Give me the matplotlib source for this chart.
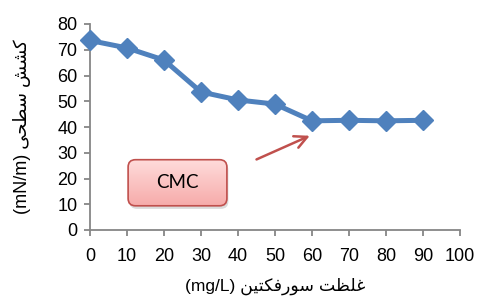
import numpy as np
import matplotlib
matplotlib.use("Agg")
import matplotlib.pyplot as plt
from matplotlib.patches import FancyBboxPatch
from matplotlib.colors import LinearSegmentedColormap

# ---- data ----
concentration = [0, 10, 20, 30, 40, 50, 60, 70, 80, 90]
surface_tension = [73.6, 70.7, 66.0, 53.6, 50.5, 48.9, 42.4, 42.6, 42.4, 42.6]
x_ticks = [0, 10, 20, 30, 40, 50, 60, 70, 80, 90, 100]
y_ticks = [0, 10, 20, 30, 40, 50, 60, 70, 80]
x_label_ar = "غلظت سورفکتین"
x_label_unit = "(mg/L)"
y_label_ar = "کشش سطحی"
y_label_unit = "(mN/m)"
cmc_label = "CMC"
cmc_index = 6

# ---- minimal Arabic/Persian shaping (presentation forms, visual order) ----
FORMS = {
    'ک': ('\uFB8E', '\uFB8F', '\uFB90', '\uFB91'),
    'ی': ('\uFBFC', '\uFBFD', '\uFBFE', '\uFBFF'),
    'ش': ('\uFEB5', '\uFEB6', '\uFEB7', '\uFEB8'),
    'س': ('\uFEB1', '\uFEB2', '\uFEB3', '\uFEB4'),
    'ط': ('\uFEC1', '\uFEC2', '\uFEC3', '\uFEC4'),
    'ح': ('\uFEA1', '\uFEA2', '\uFEA3', '\uFEA4'),
    'غ': ('\uFECD', '\uFECE', '\uFECF', '\uFED0'),
    'ل': ('\uFEDD', '\uFEDE', '\uFEDF', '\uFEE0'),
    'ظ': ('\uFEC5', '\uFEC6', '\uFEC7', '\uFEC8'),
    'ت': ('\uFE95', '\uFE96', '\uFE97', '\uFE98'),
    'ف': ('\uFED1', '\uFED2', '\uFED3', '\uFED4'),
    'ن': ('\uFEE5', '\uFEE6', '\uFEE7', '\uFEE8'),
    'و': ('\uFEED', '\uFEEE'),
    'ر': ('\uFEAD', '\uFEAE'),
}


def shape_rtl(text):
    out = []
    n = len(text)
    for i, ch in enumerate(text):
        if ch not in FORMS:
            out.append(ch)
            continue
        f = FORMS[ch]
        prev = text[i - 1] if i > 0 else ''
        nxt = text[i + 1] if i < n - 1 else ''
        jp = prev in FORMS and len(FORMS[prev]) == 4
        jn = len(f) == 4 and nxt in FORMS
        if jp and jn:
            out.append(f[3])
        elif jp:
            out.append(f[1])
        elif jn:
            out.append(f[2])
        else:
            out.append(f[0])
    return ''.join(out)[::-1]


blue = '#4F81BD'
grey = '#868686'
red = '#C0504D'

fig = plt.figure(figsize=(4.85, 3.03), dpi=100)
ax = fig.add_axes([90 / 485, 1 - 230 / 303, 370 / 485, 206 / 303])

ax.plot(concentration, surface_tension, color=blue, lw=3.6, marker='D',
        markersize=10, markerfacecolor=blue, markeredgecolor=blue,
        clip_on=False, zorder=5)

ax.set_xlim(0, 100)
ax.set_ylim(0, 80)
ax.set_xticks(x_ticks)
ax.set_yticks(y_ticks)
for s in ['top', 'right']:
    ax.spines[s].set_visible(False)
for s in ['left', 'bottom']:
    ax.spines[s].set_color(grey)
    ax.spines[s].set_linewidth(1.3)
ax.tick_params(axis='both', direction='out', length=4, width=1.3, color=grey,
               labelsize=13, pad=5)
for lab in ax.get_xticklabels() + ax.get_yticklabels():
    lab.set_family('Liberation Sans')
ax.tick_params(axis='x', pad=9)

fam = ['Liberation Sans', 'DejaVu Sans']
ax.set_xlabel(x_label_unit + ' ' + shape_rtl(x_label_ar), family=fam,
              fontsize=12.5, labelpad=9)
ax.set_ylabel(y_label_unit + ' ' + shape_rtl(y_label_ar), family=fam,
              fontsize=13, labelpad=19)

# ---- arrow pointing at CMC ----
cx, cy = concentration[cmc_index], surface_tension[cmc_index]
ax.annotate('', xy=(cx - 0.6, cy - 5.8), xytext=(cx - 15.0, cy - 15.0),
            arrowprops=dict(arrowstyle='->,head_length=0.9,head_width=0.45',
                            color=red, lw=1.8, shrinkA=0, shrinkB=0),
            zorder=6)

# ---- CMC rounded gradient box ----
sx = ax.get_position().width * 485 / 100
sy = ax.get_position().height * 303 / 80
aspect = sx / sy
bx0, by0, bw, bh = 10.3, 9.4, 26.7, 17.9
shadow = FancyBboxPatch((bx0 + 0.4, by0 - 1.2), bw, bh,
                        boxstyle='round,pad=0,rounding_size=2.0',
                        mutation_aspect=aspect, fc='#8a8a8a', ec='none',
                        alpha=0.3, zorder=3, clip_on=False)
ax.add_patch(shadow)
box = FancyBboxPatch((bx0, by0), bw, bh,
                     boxstyle='round,pad=0,rounding_size=2.0',
                     mutation_aspect=aspect, fc='none', ec=red, lw=1.2,
                     zorder=4.5)
ax.add_patch(box)
cmap = LinearSegmentedColormap.from_list('pinkgrad', ['#F6ABAA', '#FFDCDB'])
grad = np.linspace(0, 1, 100).reshape(-1, 1)
im = ax.imshow(grad, cmap=cmap, origin='lower', aspect='auto',
               extent=(bx0, bx0 + bw, by0, by0 + bh), zorder=4)
im.set_clip_path(box)
ax.set_xlim(0, 100)
ax.set_ylim(0, 80)
ax.text(bx0 + bw / 2, by0 + bh / 2, cmc_label, ha='center', va='center',
        family='Lato', fontsize=13.5, color='#000000', zorder=6)

fig.savefig('out.png', dpi=100)
